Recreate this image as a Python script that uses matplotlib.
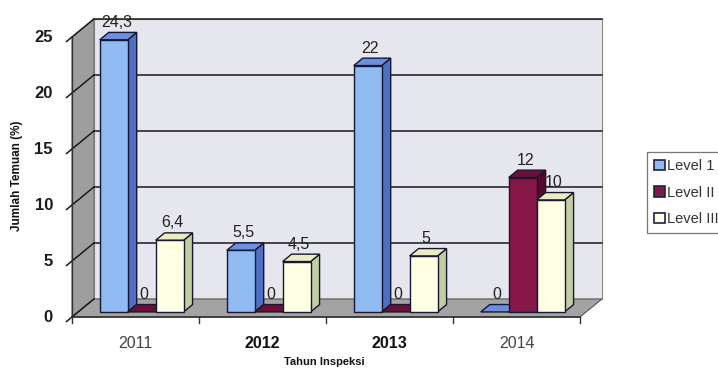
import matplotlib.pyplot as plt
from matplotlib.patches import Polygon, Patch

plt.rcParams['font.family'] = ['Liberation Sans', 'DejaVu Sans']

# data
years = ["2011", "2012", "2013", "2014"]
series_names = ["Level 1", "Level II", "Level III"]
level_1 = [24.3, 5.5, 22, 0]
level_2 = [0, 0, 0, 12]
level_3 = [6.4, 4.5, 5, 10]
y_ticks = [0, 5, 10, 15, 20, 25]

values = [level_1, level_2, level_3]
front_col = ["#8FBAF2", "#861747", "#FFFFE4"]
side_col = ["#4F6FC4", "#55082A", "#C4CCA4"]
top_col = ["#6C8FE0", "#6E0F36", "#EBEBC4"]

# depth of the pseudo 3d box, in data units
DX, DY = 0.173, 1.61
S, E = 0.28, 0.69      # bar front/back depth fraction
BW = 0.22              # bar width
OFF = 0.17             # offset of first bar in category
YMAX = 25

fig = plt.figure(figsize=(7.18, 3.69), dpi=100)
ax = fig.add_axes([0, 0, 1, 1])
ax.set_xlim(-72 / 127, (718 - 72) / 127)
ax.set_ylim(-52 / 11.2, (369 - 52) / 11.2)
ax.axis("off")

n = len(years)

# walls and floor
ax.add_patch(Polygon([(DX, DY), (n + DX, DY), (n + DX, YMAX + DY), (DX, YMAX + DY)],
                     closed=True, fc="#E6E6EE", ec="#8A8A8A", lw=0.8, zorder=0))
ax.add_patch(Polygon([(0, 0), (DX, DY), (DX, YMAX + DY), (0, YMAX)],
                     closed=True, fc="#9E9E9E", ec="#6A6A6A", lw=0.8, zorder=0))
ax.add_patch(Polygon([(0, 0), (n, 0), (n + DX, DY), (DX, DY)],
                     closed=True, fc="#A3A3A3", ec="#555555", lw=0.8, zorder=0.5))

# gridlines on back wall and side wall
for t in y_ticks[1:]:
    ax.plot([DX, n + DX], [t + DY, t + DY], color="#1A1A1A", lw=1.1, zorder=1)
for t in y_ticks:
    ax.plot([-0.25 * DX, DX], [t - 0.25 * DY, t + DY], color="#1A1A1A", lw=1.1, zorder=1)
    ax.text(-0.15, t, str(t), ha="right", va="center", fontsize=12,
            fontweight="bold", color="#1A1A1A")

# axis lines
ax.plot([0, 0], [0, YMAX], color="#333333", lw=1.0, zorder=1)
ax.plot([0, n], [0, 0], color="#333333", lw=1.2, zorder=6)
for i in range(n + 1):
    ax.plot([i, i], [0, -0.5], color="#333333", lw=1.0, zorder=6)

# bars, drawn left to right so later front faces cover earlier side faces
z = 3
for ci in range(n):
    for si in range(len(values)):
        v = values[si][ci]
        x0 = ci + OFF + si * BW
        fx0, fx1 = x0 + S * DX, x0 + BW + S * DX
        bx0, bx1 = x0 + E * DX, x0 + BW + E * DX
        fy, by = S * DY, E * DY
        # side face
        if v > 0:
            ax.add_patch(Polygon([(fx1, fy), (bx1, by), (bx1, v + by), (fx1, v + fy)],
                                 closed=True, fc=side_col[si], ec="#151830",
                                 lw=1.0, zorder=z))
        # top face
        ax.add_patch(Polygon([(fx0, v + fy), (fx1, v + fy), (bx1, v + by), (bx0, v + by)],
                             closed=True, fc=top_col[si], ec="#151830",
                             lw=1.0, zorder=z))
        # front face
        if v > 0:
            ax.bar(fx0, v, width=BW, bottom=fy, align="edge", color=front_col[si],
                   edgecolor="#151830", linewidth=1.0, zorder=z + 0.1)
        label = f"{v:g}".replace(".", ",")
        ax.text((fx0 + fx1) / 2 + 0.02, v + by + 0.9, label, ha="center", va="center",
                fontsize=11.5, color="#222222", zorder=2.5)
        z += 1

# category labels
for ci, yr in enumerate(years):
    bold = yr in ("2012", "2013")
    ax.text(ci + 0.5, -2.35, yr, ha="center", va="center", fontsize=11.5,
            fontweight="bold" if bold else "normal",
            color="#111111" if bold else "#444444")

ax.text((324 - 72) / 127, (317 - 362) / 11.2, "Tahun Inspeksi",
        ha="center", va="center", fontsize=8, fontweight="bold", color="#111111")
ax.text((17 - 72) / 127, (317 - 176) / 11.2, "Jumlah Temuan (%)", rotation=90,
        ha="center", va="center", fontsize=8.5, fontweight="bold", color="#111111")

handles = [Patch(facecolor=front_col[i], edgecolor="#1F2340", linewidth=1.2)
           for i in range(len(series_names))]
leg = fig.legend(handles, series_names, loc="upper left",
                 bbox_to_anchor=(647 / 718, 1 - 152 / 369), frameon=True,
                 fancybox=False, fontsize=10.5, handlelength=0.7, handleheight=0.7,
                 handletextpad=0.2, labelspacing=0.85, borderpad=0.5,
                 borderaxespad=0)
leg.get_frame().set_edgecolor("#555555")
leg.get_frame().set_linewidth(0.9)
for t in leg.get_texts():
    t.set_color("#333333")

fig.savefig("out.png", dpi=100, facecolor="white")
